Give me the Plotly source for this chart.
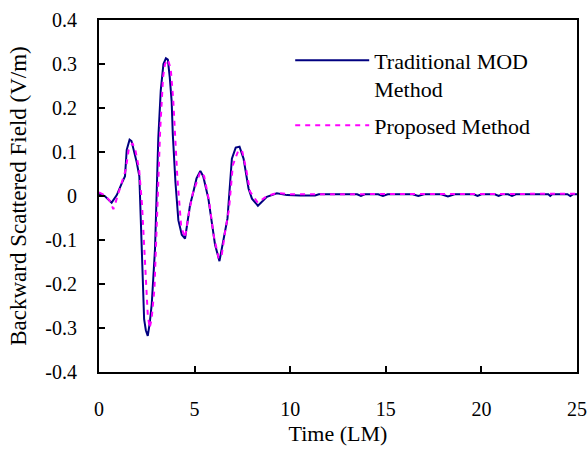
import plotly.graph_objects as go

# Traditional MOD method: time (light-metres) and backward scattered field (V/m)
mod_t = [0.0, 0.3, 0.66, 0.93, 1.2, 1.36, 1.45, 1.6, 1.7, 1.97, 2.11, 2.18, 2.24,
         2.36, 2.45, 2.55, 2.65, 2.76, 2.93, 3.02, 3.1, 3.23, 3.37, 3.5, 3.6, 3.7,
         3.8, 3.86, 4.0, 4.15, 4.33, 4.5, 4.76, 4.94, 5.1, 5.3, 5.45, 5.72, 5.9,
         6.07, 6.3, 6.51, 6.72, 6.95, 7.15, 7.35, 7.56, 7.82, 8.0, 8.31, 8.78, 9.3,
         9.83, 10.5, 11.3, 11.5, 13.5, 13.7, 13.9, 14.6, 14.85, 15.1, 16.4, 16.7,
         17.0, 17.9, 18.25, 18.6, 19.6, 19.8, 20.0, 20.7, 20.9, 21.1, 21.4, 21.6,
         21.8, 23.5, 23.6, 23.7, 24.5, 24.65, 24.8, 25.0]
mod_v = [0.005, 0.0, -0.015, 0.002, 0.03, 0.045, 0.105, 0.128, 0.125, 0.077, 0.045,
         -0.035, -0.135, -0.28, -0.305, -0.318, -0.29, -0.245, -0.12, 0.015, 0.13,
         0.24, 0.3, 0.313, 0.31, 0.27, 0.215, 0.14, 0.03, -0.055, -0.088, -0.097,
         -0.021, 0.01, 0.04, 0.057, 0.045, -0.006, -0.066, -0.111, -0.148, -0.096,
         -0.051, 0.085, 0.11, 0.112, 0.085, 0.017, -0.006, -0.022, -0.002, 0.006,
         0.002, 0.001, 0.001, 0.004, 0.004, 0.0, 0.004, 0.004, 0.0, 0.004, 0.004,
         0.0, 0.004, 0.004, -0.001, 0.004, 0.004, 0.0, 0.004, 0.004, 0.0, 0.004,
         0.004, 0.0, 0.004, 0.004, 0.0, 0.004, 0.004, 0.0, 0.004, 0.004]

# Proposed method
prop_t = [0.0, 0.3, 0.55, 0.75, 0.9, 1.1, 1.4, 1.55, 1.75, 1.9, 2.1, 2.25, 2.35,
          2.45, 2.55, 2.65, 2.75, 2.9, 3.0, 3.1, 3.2, 3.35, 3.45, 3.6, 3.75, 3.88,
          3.98, 4.1, 4.3, 4.5, 4.7, 4.9, 5.3, 5.5, 5.75, 6.0, 6.25, 6.4, 6.6, 6.8,
          7.0, 7.3, 7.5, 7.7, 7.9, 8.3, 8.8, 9.3, 10.0, 25.0]
prop_v = [0.008, 0.002, -0.01, -0.03, -0.01, 0.02, 0.06, 0.105, 0.12, 0.105, 0.06,
          -0.02, -0.1, -0.2, -0.27, -0.3, -0.28, -0.21, -0.1, 0.0, 0.15, 0.27, 0.3,
          0.31, 0.29, 0.22, 0.15, 0.04, -0.07, -0.095, -0.04, 0.005, 0.055, 0.045,
          -0.01, -0.09, -0.14, -0.14, -0.08, -0.03, 0.07, 0.105, 0.1, 0.06, 0.01,
          -0.015, 0.0, 0.007, 0.004, 0.005]

x_ticks = [0, 5, 10, 15, 20, 25]
x_tick_labels = ["0", "5", "10", "15", "20", "25"]
y_ticks = [0.4, 0.3, 0.2, 0.1, 0.0, -0.1, -0.2, -0.3, -0.4]
y_tick_labels = ["0.4", "0.3", "0.2", "0.1", "0", "-0.1", "-0.2", "-0.3", "-0.4"]

FONT = "Liberation Serif, Times New Roman, serif"

fig = go.Figure()
fig.add_trace(go.Scatter(
    x=mod_t, y=mod_v, mode="lines", name="Traditional MOD<br>Method",
    legendgroup="mod", line=dict(color="#000080", width=2),
))
fig.add_trace(go.Scatter(
    x=prop_t, y=prop_v, mode="lines", name="Proposed Method",
    legendgroup="prop", line=dict(color="#FF00FF", width=2, dash="5px,5px"),
))

axis_common = dict(
    showgrid=False, zeroline=False, showline=True, linecolor="black", linewidth=2,
    mirror=True, ticks="inside", ticklen=6, tickwidth=1.5, tickcolor="black",
    tickfont=dict(family=FONT, size=20, color="black"),
)

fig.update_xaxes(
    range=[0, 25], tickmode="array", tickvals=x_ticks, ticktext=x_tick_labels,
    title=dict(text="Time (LM)", font=dict(family=FONT, size=22, color="black"), standoff=7),
    ticklabelstandoff=18, **axis_common,
)
fig.update_yaxes(
    range=[-0.4, 0.4], tickmode="array", tickvals=y_ticks, ticktext=y_tick_labels,
    title=dict(text="Backward Scattered Field (V/m)", font=dict(family=FONT, size=23, color="black"), standoff=12),
    ticklabelstandoff=16, **axis_common,
)

fig.update_layout(
    width=588, height=456,
    margin=dict(l=99, r=11, t=20, b=84, autoexpand=False),
    paper_bgcolor="white", plot_bgcolor="white",
    showlegend=True,
    legend=dict(
        x=0.40, y=0.945, xanchor="left", yanchor="top",
        bgcolor="rgba(0,0,0,0)", borderwidth=0,
        font=dict(family=FONT, size=22, color="black"),
        itemwidth=74, valign="top", traceorder="grouped", tracegroupgap=5,
    ),
)

fig.write_html("out.html")
